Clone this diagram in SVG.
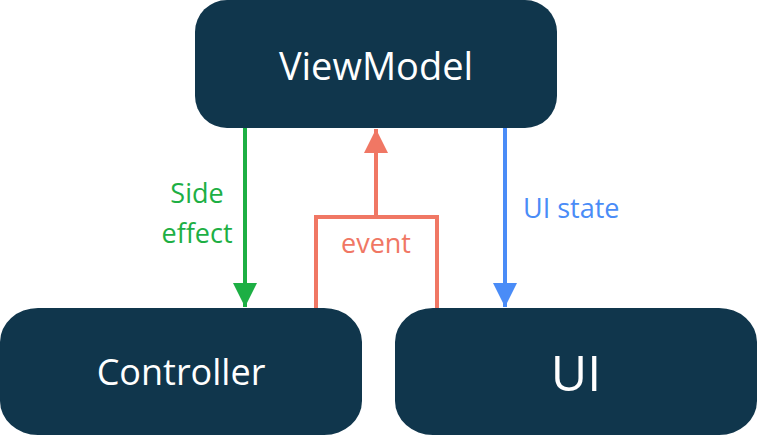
<svg xmlns="http://www.w3.org/2000/svg" width="757" height="435" viewBox="0 0 757 435">
<style>
.box{fill:#10364C}
.nt{fill:#ffffff;font-family:"Open Sans","Noto Sans",sans-serif;text-anchor:middle}
.lbl{font-family:"Open Sans","Noto Sans",sans-serif;font-size:27px}
.ln{fill:none;stroke-width:4}
</style>
<defs>
<marker id="ag" markerUnits="userSpaceOnUse" markerWidth="24" markerHeight="24" refX="24" refY="12" orient="auto" viewBox="0 0 24 24"><path d="M0,0 L24,12 L0,24 Z" fill="#1DAF44"/></marker>
<marker id="ab" markerUnits="userSpaceOnUse" markerWidth="24" markerHeight="24" refX="24" refY="12" orient="auto" viewBox="0 0 24 24"><path d="M0,0 L24,12 L0,24 Z" fill="#4A8CF7"/></marker>
<marker id="ar" markerUnits="userSpaceOnUse" markerWidth="24" markerHeight="24" refX="24" refY="12" orient="auto" viewBox="0 0 24 24"><path d="M0,0 L24,12 L0,24 Z" fill="#F07764"/></marker>
</defs>
<g id="connectors">
<path class="ln" d="M245,128 V307" stroke="#1DAF44" marker-end="url(#ag)"/>
<path class="ln" d="M505,128 V307" stroke="#4A8CF7" marker-end="url(#ab)"/>
<path class="ln" d="M316,308 V217 H437 V308" stroke="#F07764"/>
<path class="ln" d="M376,217 V129" stroke="#F07764" marker-end="url(#ar)"/>
<text class="lbl" x="197" y="203" fill="#1DAF44" text-anchor="middle" font-size="25">Side</text>
<text class="lbl" x="197" y="243" fill="#1DAF44" text-anchor="middle" font-size="25">effect</text>
<text class="lbl" x="376" y="253" fill="#F07764" text-anchor="middle">event</text>
<text class="lbl" x="523" y="218" fill="#4A8CF7">UI state</text>
</g>
<g id="viewmodel">
<rect class="box" x="195" y="0" width="362" height="128" rx="32" ry="32"/>
<text class="nt" x="376" y="80" font-size="38">ViewModel</text>
</g>
<g id="controller">
<rect class="box" x="0" y="308" width="362" height="127" rx="38" ry="34"/>
<text class="nt" x="181" y="385" font-size="36">Controller</text>
</g>
<g id="ui">
<rect class="box" x="395" y="308" width="362" height="127" rx="38" ry="34"/>
<text class="nt" x="576" y="391" font-size="50">UI</text>
</g>
</svg>
